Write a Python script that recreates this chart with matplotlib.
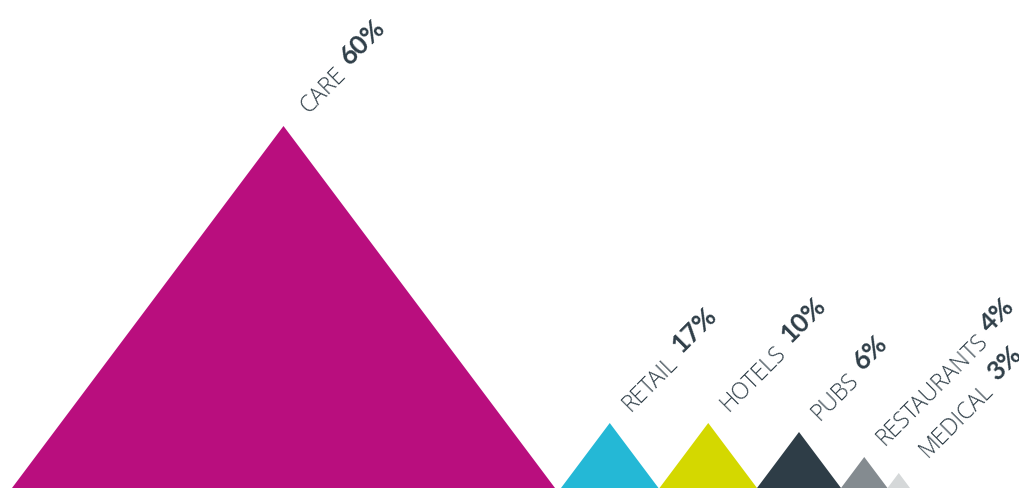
import matplotlib
matplotlib.use("Agg")
import matplotlib.pyplot as plt
import numpy as np

# Data
categories = ["CARE", "RETAIL", "HOTELS", "PUBS", "RESTAURANTS", "MEDICAL"]
shares = [60, 17, 10, 6, 4, 3]
heights = [362, 65, 65, 56, 31, 15]   # triangle heights (px)
colors = ["#B90E7E", "#24B8D6", "#D4D800", "#2E3D47", "#848B90", "#D5D8D9"]
text_color = "#2F3E48"

W, H = 1020, 489
fig = plt.figure(figsize=(W / 100, H / 100), dpi=100)
ax = fig.add_axes([0, 0, 1, 1])
ax.set_xlim(0, W)
ax.set_ylim(H, 0)
ax.axis("off")

half_ratio = 0.75          # half base / height
gaps = [12, 6, 1, 0, 0, 0]
renderer = fig.canvas.get_renderer()
c45 = np.cos(np.pi / 4)

x = 0
for i, (cat, sh, h, col) in enumerate(zip(categories, shares, heights, colors)):
    x += gaps[i]
    hw = h * half_ratio
    cx = x + hw
    tri = plt.Polygon([(x, H), (cx, H - h), (x + 2 * hw, H)], closed=True,
                      facecolor=col, edgecolor="none")
    ax.add_patch(tri)
    x += 2 * hw

    # labels, rotated 45 degrees
    if cat == "MEDICAL":
        ox, oy = 29, 16
    elif cat == "CARE":
        ox, oy = 25, 13
    else:
        ox, oy = 21, 12
    sx, sy = cx + ox, H - h - oy
    t = ax.text(sx, sy, cat, fontsize=16.5, family="Open Sans", fontweight="light",
                color=text_color, rotation=0, ha="left", va="baseline",
                rotation_mode="anchor")
    w = t.get_window_extent(renderer).width
    t.set_rotation(45)
    d = w + (6 if cat == "RESTAURANTS" else 9)
    perp = 5   # percentage sits slightly above the name's baseline
    px = sx + d * c45 - perp * c45
    py = sy - d * c45 - perp * c45
    ax.text(px, py, f"{sh}%", fontsize=19, family="Lato",
            fontweight="bold", color=text_color, rotation=45, ha="left",
            va="baseline", rotation_mode="anchor")

fig.savefig("out.png", dpi=100)
